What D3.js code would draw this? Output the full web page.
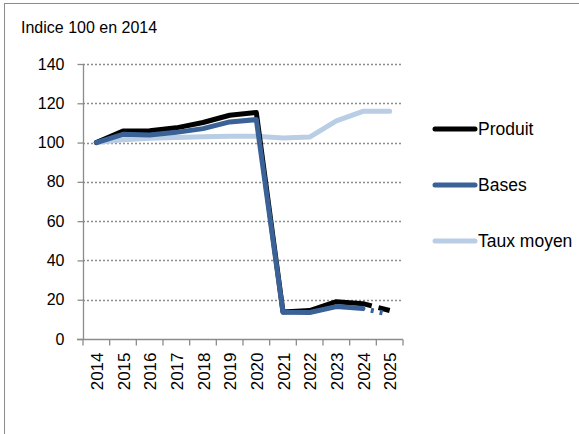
<!DOCTYPE html>
<html lang="fr">
<head>
<meta charset="UTF-8">
<title>Indice 100 en 2014</title>
<script src="https://d3js.org/d3.v7.min.js"></script>
<style>
    body { margin: 0; background: #fff; }
    svg { font-family: "Liberation Sans", Arial, sans-serif; }
</style>
</head>
<body>
<div id="chart"></div>
<script>
    // data
    var years = ["2014", "2015", "2016", "2017", "2018", "2019", "2020", "2021", "2022", "2023", "2024", "2025"];
    var produit = [100, 105.9, 106, 107.5, 110.2, 113.9, 115.3, 13.8, 14.5, 19, 18, 14.5];
    var bases = [100, 104.2, 103.9, 105.2, 107.1, 110.5, 111.7, 13.6, 13.5, 16.5, 15.5, 12.5];
    var tauxMoyen = [100, 101.4, 102.2, 102.6, 103, 103.2, 103.2, 102.3, 102.8, 111, 115.9, 115.9];
    var yTicks = [0, 20, 40, 60, 80, 100, 120, 140];
    var seriesNames = ["Produit", "Bases", "Taux moyen"];

    var width = 579, height = 434;
    var plot = { left: 83, right: 403, top: 64, bottom: 339 };

    var svg = d3.select("#chart").append("svg")
        .attr("width", width)
        .attr("height", height);

    // outer frame
    svg.append("rect")
        .attr("x", 4.5).attr("y", 3.5)
        .attr("width", 600).attr("height", 460)
        .attr("fill", "none")
        .attr("stroke", "#8c8c8c");

    svg.append("text")
        .attr("x", 21).attr("y", 33)
        .attr("font-size", 16)
        .attr("fill", "#000")
        .text("Indice 100 en 2014");

    var x = d3.scaleBand().domain(years).range([plot.left, plot.right]);
    var y = d3.scaleLinear().domain([0, 140]).range([plot.bottom, plot.top]);

    // gridlines
    svg.append("g").selectAll("line")
        .data(yTicks.filter(function(d) { return d > 0; }))
        .enter().append("line")
        .attr("x1", plot.left).attr("x2", plot.right)
        .attr("y1", function(d) { return Math.round(y(d)) + 0.5; })
        .attr("y2", function(d) { return Math.round(y(d)) + 0.5; })
        .attr("stroke", "#8c8c8c")
        .attr("stroke-width", 1.3)
        .attr("stroke-dasharray", "2,2");

    // y axis
    var yAxis = svg.append("g")
        .attr("transform", "translate(" + (plot.left + 0.5) + ",0)")
        .call(d3.axisLeft(y).tickValues(yTicks).tickSize(6).tickPadding(13));
    yAxis.selectAll("path, line").attr("stroke", "#8c8c8c").attr("stroke-width", 1.3);
    yAxis.selectAll("text").attr("font-size", 16).attr("fill", "#000")
        .attr("font-family", "Liberation Sans, Arial, sans-serif");
    yAxis.select(".domain").attr("d", "M0," + plot.top + "V" + plot.bottom);

    // x axis with ticks on category boundaries
    var xAxis = svg.append("g")
        .attr("transform", "translate(0," + (plot.bottom + 0.5) + ")");
    xAxis.append("line")
        .attr("x1", plot.left - 6).attr("x2", plot.right)
        .attr("stroke", "#8c8c8c").attr("stroke-width", 1.3);
    xAxis.selectAll(".tick")
        .data(years.concat(["end"]))
        .enter().append("line")
        .attr("x1", function(d, i) { return plot.left + i * x.bandwidth(); })
        .attr("x2", function(d, i) { return plot.left + i * x.bandwidth(); })
        .attr("y1", 0).attr("y2", 6)
        .attr("stroke", "#8c8c8c").attr("stroke-width", 1.3);
    xAxis.selectAll("text")
        .data(years)
        .enter().append("text")
        .attr("transform", function(d) {
            return "translate(" + (x(d) + x.bandwidth() / 2 + 6.5) + ",13) rotate(-90)";
        })
        .attr("text-anchor", "end")
        .attr("font-size", 17)
        .attr("fill", "#000")
        .text(function(d) { return d; });

    // last segment (2024-2025) is drawn dashed
    var series = [
        { name: seriesNames[0], values: produit, color: "#000000", dash: "9,7,30" },
        { name: seriesNames[1], values: bases, color: "#3a6297", dash: "1,7,3,6,3,30" },
        { name: seriesNames[2], values: tauxMoyen, color: "#b9cde5", dash: null }
    ];

    var line = d3.line()
        .x(function(d) { return x(d.year) + x.bandwidth() / 2; })
        .y(function(d) { return y(d.v); });

    // draw Taux first, then Produit, then Bases on top
    [series[2], series[0], series[1]].forEach(function(s) {
        var pts = s.values.map(function(v, i) { return { year: years[i], v: v }; });
        var solid = s.dash ? pts.slice(0, 11) : pts;
        svg.append("path")
            .attr("d", line(solid))
            .attr("fill", "none")
            .attr("stroke", s.color)
            .attr("stroke-width", 5)
            .attr("stroke-linejoin", "round")
            .attr("stroke-linecap", "round");
        if (s.dash) {
            svg.append("path")
                .attr("d", line(pts.slice(10)))
                .attr("fill", "none")
                .attr("stroke", s.color)
                .attr("stroke-width", 5)
                .attr("stroke-dasharray", s.dash);
        }
    });

    // legend
    var legend = svg.append("g");
    var legY = [129, 185, 241];
    series.forEach(function(s, i) {
        legend.append("line")
            .attr("x1", 435).attr("x2", 475)
            .attr("y1", legY[i]).attr("y2", legY[i])
            .attr("stroke", s.color)
            .attr("stroke-width", 5)
            .attr("stroke-linecap", "round");
        legend.append("text")
            .attr("x", 478).attr("y", legY[i] + 6)
            .attr("font-size", 17.5)
            .attr("fill", "#000")
            .text(s.name);
    });
</script>
</body>
</html>
